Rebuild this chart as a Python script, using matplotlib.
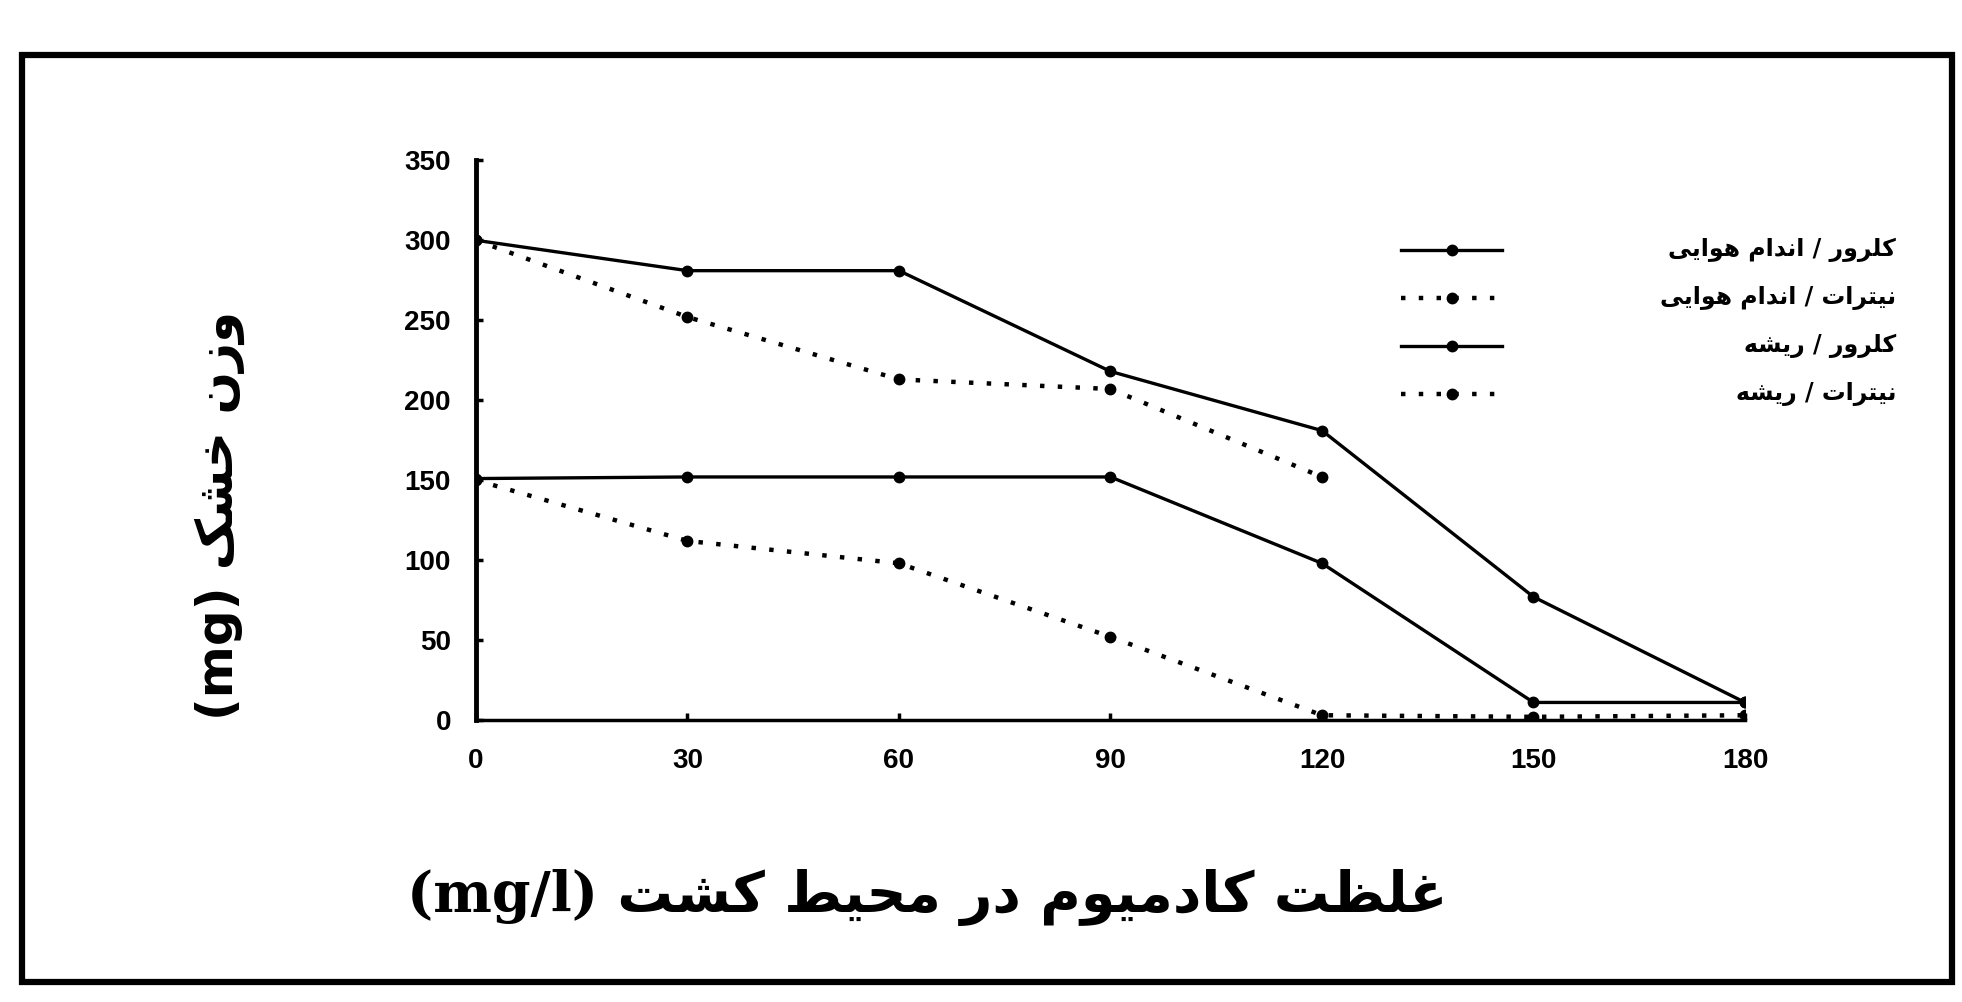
import matplotlib
matplotlib.use('Agg')
import matplotlib.pyplot as plt
from matplotlib.lines import Line2D
from matplotlib.patches import Rectangle

# ---------- data ----------
cd_conc = [0, 30, 60, 90, 120, 150, 180]
chl_shoot = [300, 281, 281, 218, 181, 77, 11]
nit_shoot = [300, 252, 213, 207, 152]          # no points after 120
chl_root = [151, 152, 152, 152, 98, 11, 11]
nit_root = [150, 112, 98, 52, 3, 2, 3]
y_ticks = [0, 50, 100, 150, 200, 250, 300, 350]

series_names = ['کلرور / اندام هوایی', 'نیترات / اندام هوایی',
                'کلرور / ریشه', 'نیترات / ریشه']
x_title = 'غلظت کادمیوم در محیط کشت (mg/l)'
y_title = 'وزن خشک (mg)'

# ---------- small persian shaper (matplotlib has no bidi / shaping) ----------
# letter: (isolated, final, initial, medial)
FORMS = {
    'ا': ('\uFE8D', '\uFE8E', None, None),
    'ت': ('\uFE95', '\uFE96', '\uFE97', '\uFE98'),
    'ح': ('\uFEA1', '\uFEA2', '\uFEA3', '\uFEA4'),
    'خ': ('\uFEA5', '\uFEA6', '\uFEA7', '\uFEA8'),
    'د': ('\uFEA9', '\uFEAA', None, None),
    'ر': ('\uFEAD', '\uFEAE', None, None),
    'ز': ('\uFEAF', '\uFEB0', None, None),
    'ش': ('\uFEB5', '\uFEB6', '\uFEB7', '\uFEB8'),
    'ط': ('\uFEC1', '\uFEC2', '\uFEC3', '\uFEC4'),
    'ظ': ('\uFEC5', '\uFEC6', '\uFEC7', '\uFEC8'),
    'غ': ('\uFECD', '\uFECE', '\uFECF', '\uFED0'),
    'ل': ('\uFEDD', '\uFEDE', '\uFEDF', '\uFEE0'),
    'م': ('\uFEE1', '\uFEE2', '\uFEE3', '\uFEE4'),
    'ن': ('\uFEE5', '\uFEE6', '\uFEE7', '\uFEE8'),
    'ه': ('\uFEE9', '\uFEEA', '\uFEEB', '\uFEEC'),
    'و': ('\uFEED', '\uFEEE', None, None),
    'ک': ('\uFB8E', '\uFB8F', '\uFB90', '\uFB91'),
    'ی': ('\uFBFC', '\uFBFD', '\uFBFE', '\uFBFF'),
}


def shape_word(w):
    out = []
    for i, ch in enumerate(w):
        if ch not in FORMS:
            out.append(ch)
            continue
        prev_joins = i > 0 and w[i - 1] in FORMS and FORMS[w[i - 1]][2] is not None
        next_joins = (i < len(w) - 1 and w[i + 1] in FORMS
                      and FORMS[ch][2] is not None)
        iso, fin, ini, med = FORMS[ch]
        if prev_joins and next_joins:
            out.append(med)
        elif prev_joins:
            out.append(fin)
        elif next_joins:
            out.append(ini)
        else:
            out.append(iso)
    return ''.join(out)


def fa(text):
    words = []
    for tok in reversed(text.split(' ')):
        if any(c in FORMS for c in tok):
            words.append(shape_word(tok)[::-1])
        else:
            words.append(tok)
    return ' '.join(words)


fa_font = ['DejaVu Sans']
num_font = ['Liberation Sans', 'DejaVu Sans']

fig = plt.figure(figsize=(19.62, 10.02), dpi=100)
ax = fig.add_axes([0.2426, 0.2814, 0.6468, 0.5586])

lw = 2.4
ms = 7.5
dot = (0, (1, 3))
ax.plot(cd_conc, chl_shoot, 'k-', lw=lw, marker='o', ms=ms)
ax.plot(cd_conc[:len(nit_shoot)], nit_shoot, color='k', ls=dot, lw=3.2,
        marker='o', ms=ms)
ax.plot(cd_conc, chl_root, 'k-', lw=lw, marker='o', ms=ms)
ax.plot(cd_conc, nit_root, color='k', ls=dot, lw=3.2, marker='o', ms=ms)

ax.set_xlim(0, 180)
ax.set_ylim(0, 350)
ax.set_xticks(cd_conc)
ax.set_yticks(y_ticks)
for s in ['top', 'right']:
    ax.spines[s].set_visible(False)
ax.spines['left'].set_linewidth(3.5)
ax.spines['bottom'].set_linewidth(2.5)
ax.tick_params(axis='both', direction='in', length=5, width=2.5)
ax.tick_params(axis='x', pad=20)
ax.tick_params(axis='y', pad=18)
for t in ax.get_xticklabels() + ax.get_yticklabels():
    t.set_family(num_font)
    t.set_fontweight('bold')
    t.set_fontsize(20)

# ---------- axis titles ----------
fig.text(0.4725, 0.104, fa(x_title), ha='center', va='center', fontsize=40,
         fontweight='bold', family=['DejaVu Serif', 'DejaVu Sans'])
fig.text(0.112, 0.486, fa(y_title), ha='center', va='center', fontsize=36,
         fontweight='bold', rotation=90, family=['DejaVu Sans'])

# ---------- legend (handles left, text right aligned) ----------
leg_y = [0.7505, 0.7026, 0.6547, 0.6068]
styles = [('-', lw), (dot, 3.2), ('-', lw), (dot, 3.2)]
for name, yy, (ls_, lw_) in zip(series_names, leg_y, styles):
    fig.add_artist(Line2D([0.714, 0.740, 0.7655], [yy, yy, yy],
                          transform=fig.transFigure, color='k', ls=ls_, lw=lw_,
                          marker='o', ms=ms, markevery=[1]))
    fig.text(0.9664, yy, fa(name), ha='right', va='center', fontsize=17,
             fontweight='bold', family=fa_font)

# ---------- outer frame ----------
fig.add_artist(Rectangle((0.011, 0.02), 0.984, 0.925, transform=fig.transFigure,
                         fill=False, lw=4.5, ec='k'))

plt.savefig('out.png', dpi=100)
